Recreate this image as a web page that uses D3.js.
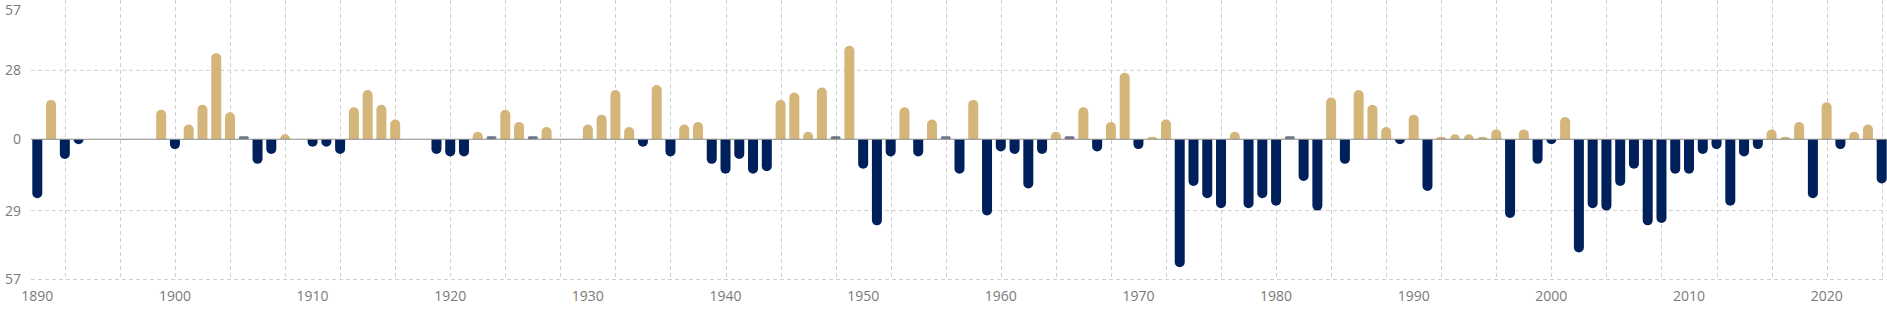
<!DOCTYPE html>
<html>
<head>
<meta charset="utf-8">
<script src="https://cdn.jsdelivr.net/npm/d3@7"></script>
<style>
  html, body { margin: 0; padding: 0; background: #fff; }
  svg text { font-family: "Open Sans", "Noto Sans", sans-serif; fill: #7a7a7a; font-size: 14px; }
</style>
</head>
<body>
<svg id="chart"></svg>
<script>
// yearly values, null = no data for that year
const years = d3.range(1890, 2025);
const values = [
  -24, 16, -8, -2, null, null, null, null, null, 12,   // 1890s
  -4, 6, 14, 35, 11, 0, -10, -6, 2, null,              // 1900s
  -3, -3, -6, 13, 20, 14, 8, null, null, -6,           // 1910s
  -7, -7, 3, 0, 12, 7, 0, 5, null, null,               // 1920s
  6, 10, 20, 5, -3, 22, -7, 6, 7, -10,                 // 1930s
  -14, -8, -14, -13, 16, 19, 3, 21, 0, 38,             // 1940s
  -12, -35, -7, 13, -7, 8, 0, -14, 16, -31,            // 1950s
  -5, -6, -20, -6, 3, 0, 13, -5, 7, 27,                // 1960s
  -4, 1, 8, -52, -19, -24, -28, 3, -28, -24,           // 1970s
  -27, 0, -17, -29, 17, -10, 20, 14, 5, -2,            // 1980s
  10, -21, 1, 2, 2, 1, 4, -32, 4, -10,                 // 1990s
  -2, 9, -46, -28, -29, -19, -12, -35, -34, -14,       // 2000s
  -14, -6, -4, -27, -7, -4, 4, 1, 7, -24,              // 2010s
  15, -4, 3, 6, -18                                    // 2020s
];
const yTicks = [57, 28, 0, -29, -57];
const xLabels = [1890, 1900, 1910, 1920, 1930, 1940, 1950, 1960, 1970, 1980, 1990, 2000, 2010, 2020];
const xGrid = d3.range(1892, 2025, 4);

const colors = { pos: '#d4b67b', neg: '#00205b', zero: '#6b7585' };

const width = 1887, height = 312;
const plotLeft = 31;
const barW = 10;

const svg = d3.select('#chart').attr('width', width).attr('height', height);

const x = d3.scaleLinear().domain([1890, 2024]).range([37.3, 1881.7]);
const y = d3.scaleLinear().domain([-57, 57]).range([279.5, -1]);

// grid
const grid = svg.append('g');
grid.selectAll('.hgrid')
  .data(yTicks.filter(d => d !== 0))
  .join('line')
  .attr('x1', plotLeft).attr('x2', width)
  .attr('y1', d => y(d)).attr('y2', d => y(d))
  .attr('stroke', '#d0d0d0').attr('stroke-width', 1)
  .attr('stroke-dasharray', '4,3');

grid.selectAll('.vgrid')
  .data(xGrid)
  .join('line')
  .attr('x1', d => Math.round(x(d)) + 0.5).attr('x2', d => Math.round(x(d)) + 0.5)
  .attr('y1', 0).attr('y2', y(-57))
  .attr('stroke', '#d0d0d0').attr('stroke-width', 1)
  .attr('stroke-dasharray', '4,3');

// y labels
svg.append('g').selectAll('text')
  .data(yTicks)
  .join('text')
  .attr('x', 21)
  .attr('y', d => Math.max(y(d), 10))
  .attr('dy', '0.35em')
  .attr('text-anchor', 'end')
  .text(d => Math.abs(d));

// x labels
svg.append('g').selectAll('text')
  .data(xLabels)
  .join('text')
  .attr('x', d => x(d))
  .attr('y', 301)
  .attr('text-anchor', 'middle')
  .text(d => d);

// bars with a rounded outer end
function barPath(year, v) {
  const x0 = x(year) - barW / 2, x1 = x(year) + barW / 2;
  const y0 = y(0);
  const h = Math.abs(y(v) - y0);
  const r = Math.min(barW / 2, h);
  if (v > 0) {
    const yt = y(v);
    return `M${x0},${y0}V${yt + r}A${barW / 2},${r} 0 0 1 ${x1},${yt + r}V${y0}Z`;
  }
  const yb = y(v);
  return `M${x0},${y0}V${yb - r}A${barW / 2},${r} 0 0 0 ${x1},${yb - r}V${y0}Z`;
}

const data = years.map((yr, i) => ({ year: yr, value: values[i] }))
  .filter(d => d.value !== null);

svg.append('g').selectAll('path')
  .data(data.filter(d => d.value !== 0))
  .join('path')
  .attr('d', d => barPath(d.year, d.value))
  .attr('fill', d => d.value > 0 ? colors.pos : colors.neg);

svg.append('g').selectAll('rect')
  .data(data.filter(d => d.value === 0))
  .join('rect')
  .attr('x', d => x(d.year) - barW / 2)
  .attr('y', y(0) - 3)
  .attr('width', barW)
  .attr('height', 3)
  .attr('rx', 1.5)
  .attr('fill', colors.zero);

// zero line
svg.append('line')
  .attr('x1', plotLeft).attr('x2', width)
  .attr('y1', y(0)).attr('y2', y(0))
  .attr('stroke', '#8a8a8a').attr('stroke-width', 1.2);
</script>
</body>
</html>
